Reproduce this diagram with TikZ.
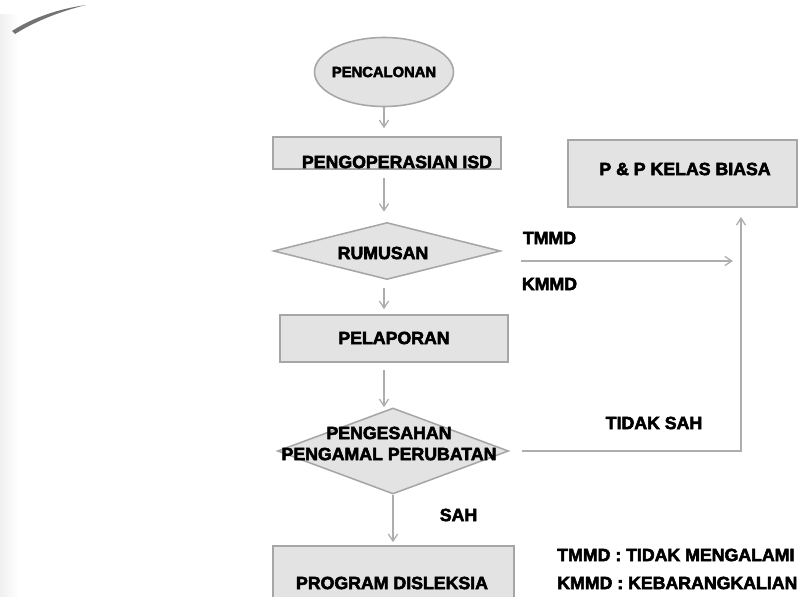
\documentclass[tikz,border=0pt]{standalone}
\usepackage{fontspec}
\setmainfont{Liberation Sans}[BoldFeatures={FakeBold=3}]
\usetikzlibrary{shapes.geometric,arrows.meta}

\begin{document}
\begin{tikzpicture}[x=0.025cm,y=-0.025cm,
  box/.style={draw=black!35,fill=black!11,line width=1.1pt,inner sep=0pt},
  lbl/.style={font=\fontsize{12.6}{15}\selectfont\bfseries,inner sep=0pt,align=center},
  arr/.style={draw=black!32,line width=0.9pt,-{Straight Barb[length=5pt,width=6.5pt]}}]
  \clip (0,0) rectangle (804,597);
  \fill[white] (0,0) rectangle (804,597);
  \shade[left color=black!6,right color=white] (0,15) rectangle (18,597);
  \fill[black!55] (12,31) .. controls (32,18) and (58,9) .. (86,5) .. controls (58,12) and (34,22) .. (15,34) -- cycle;

  \node[box,ellipse,minimum width=3.475cm,minimum height=1.725cm] (pen) at (384,72) {};
  \node[box,rectangle,minimum width=5.7cm,minimum height=0.8cm] (isd) at (387,153) {};
  \node[box,diamond,minimum width=5.675cm,minimum height=1.425cm] (rum) at (387,251) {};
  \node[box,rectangle,minimum width=5.7cm,minimum height=1.175cm] (pel) at (394,338.5) {};
  \node[box,diamond,minimum width=5.775cm,minimum height=2.15cm] (ges) at (393,451) {};
  \node[box,rectangle,minimum width=5.725cm,minimum height=1.675cm] (pp) at (682.5,173.5) {};
  \node[box,rectangle,minimum width=6.025cm,minimum height=2.35cm] (prog) at (393.5,593) {};

  \node[lbl,font=\fontsize{10.5}{12}\selectfont\bfseries] (pentxt) at (pen) {PENCALONAN};
  \node[lbl] (isdtxt) at (397,162) {PENGOPERASIAN ISD};
  \node[lbl] (rumtxt) at (383,253) {RUMUSAN};
  \node[lbl] (peltxt) at (394,338) {PELAPORAN};
  \node[lbl] (gestxt) at (389,443.5) {PENGESAHAN\\PENGAMAL PERUBATAN};
  \node[lbl] (pptxt) at (685,169) {P \& P KELAS BIASA};
  \node[lbl] (progtxt) at (392,583) {PROGRAM DISLEKSIA};
  \node[lbl] (tmmd) at (549.5,238) {TMMD};
  \node[lbl] (kmmd) at (549.5,284) {KMMD};
  \node[lbl] (tidak) at (654,423) {TIDAK SAH};
  \node[lbl] (sah) at (458.5,515) {SAH};
  \node[lbl,anchor=west] (legt) at (557,555) {TMMD : TIDAK MENGALAMI};
  \node[lbl,anchor=west] (legk) at (557,583) {KMMD : KEBARANGKALIAN};

  \coordinate (tka) at (521,261);
  \coordinate (tkb) at (733,261);
  \coordinate (ppin) at (741,207);

  \draw[arr,shorten >=0.2cm] (pen.south) -- (pen.south |- isd.north);
  \draw[arr,shorten <=0.2cm,shorten >=0.25cm] (pen |- isd.south) -- (pen |- rum.north);
  \draw[arr,shorten <=0.2cm,shorten >=0.125cm] (pen |- rum.south) -- (pen |- pel.north);
  \draw[arr,shorten <=0.175cm] (pen |- pel.south) -- (pen |- ges.north);
  \draw[arr,shorten >=0.075cm] (ges.south) -- (ges.south |- prog.north);
  \draw[arr] (tka) -- (tkb);
  \draw[arr,shorten <=0.325cm,shorten >=0.25cm] (ges.east) -| (ppin);
\end{tikzpicture}
\end{document}
